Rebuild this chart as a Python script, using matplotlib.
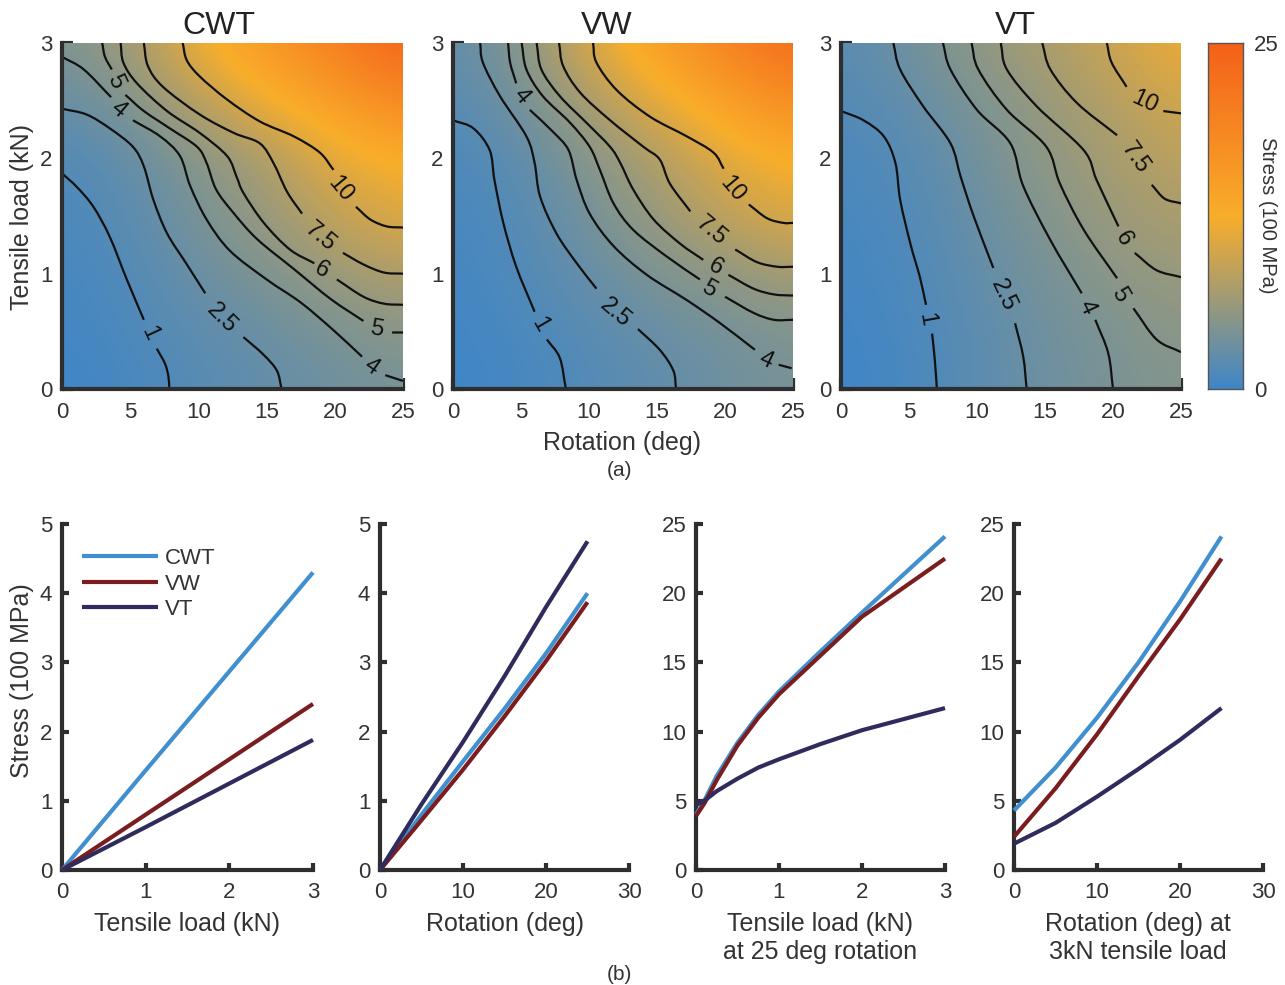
import numpy as np
import matplotlib
matplotlib.use("Agg")
import matplotlib.pyplot as plt
from matplotlib.colors import LinearSegmentedColormap
from matplotlib.path import Path
from matplotlib.patches import PathPatch

plt.rcParams['font.family'] = ['Liberation Sans', 'DejaVu Sans']
W, H = 1285, 985
TXT = '#333333'
AX = '#2e2e2e'

# ---------- data: stress fields ----------
grid_rot = [0, 5, 10, 15, 20, 25]
grid_load = [0, 0.5, 1, 1.5, 2, 2.5, 3]
field_cwt = [[0, .6, 1.6, 2.4, 3.2, 3.9], [.3, 1.0, 2, 3, 4, 5], [.5, 1.3, 3.0, 4.2, 6.2, 7.5],
             [.8, 1.9, 3.8, 6.0, 8.8, 10.8], [1.2, 2.4, 4.8, 7.2, 11, 12.8], [2.5, 4.4, 8, 12, 15, 18.5],
             [4.3, 6.5, 12, 16, 20, 24.5]]
field_vw = [[0, .6, 1.4, 2.2, 3.2, 3.9], [.2, .8, 1.7, 2.8, 3.6, 4.4], [.4, 1.2, 2.7, 4.1, 5.4, 6.7],
            [.6, 1.5, 3.6, 6, 8.6, 10.7], [.9, 2.0, 4.8, 7.5, 10.8, 12.8], [1.6, 3.5, 7, 11, 14.5, 18],
            [2.4, 4.6, 10.5, 15, 19.5, 23]]
field_vt = [[0, .7, 1.9, 3.2, 4, 4.7], [.2, .8, 2, 3.3, 4.2, 5.2], [.4, 1, 2.4, 3.8, 5.2, 6.1],
            [.6, 1.2, 2.9, 4.5, 6.2, 7.3], [.9, 1.6, 3.4, 5.4, 7, 8.4], [1.2, 2.4, 4.1, 6, 7.8, 10],
            [1.9, 3.3, 5.5, 7.3, 9.5, 11.7]]

# ---------- data: contour traces (rotation, load), split where labels interrupt ----------
contours_cwt = [
    [(0,1.87),(1.1,1.75),(2.3,1.58),(3.5,1.32),(4.75,.95),(6,.6)],
    [(6.95,.35),(7.55,.22),(7.8,.11),(7.87,0)],
    [(0,2.43),(1.8,2.38),(3.5,2.26),(5.2,2.10),(6,1.93),(6.7,1.64),(7.7,1.35),(9.1,1.09),(10.5,.83)],
    [(13.3,.45),(14.75,.3),(15.75,.16),(16.1,0)],
    [(0,2.88),(1.6,2.77),(3.6,2.53)],
    [(5.2,2.33),(7.2,2.19),(8.65,2.02),(9.4,1.76),(10.6,1.47),(12.3,1.2),(15,.95),(17.5,.75),(19.9,.51),(22,.28)],
    [(23.7,.12),(25,.07)],
    [(2.95,3),(3.15,2.88),(3.65,2.77)],
    [(4.65,2.55),(6,2.41),(7.9,2.26),(9.9,2.1),(10.6,1.96),(11.3,1.73),(12.55,1.53),(14.3,1.3),(17,1.04),(19.7,.78),(22.1,.59)],
    [(24.2,.49),(25,.49)],
    [(4.3,3),(4.5,2.83),(5.5,2.65),(7.7,2.41),(10.1,2.22),(12.1,2.02),(12.8,1.84),(13.3,1.7),(14.8,1.44),(16.7,1.21),(18.5,1.09)],
    [(20.15,.95),(22.1,.8),(23.6,.74),(25,.73)],
    [(6,3),(6.3,2.8),(7.4,2.62),(10.1,2.38),(12.6,2.22),(14.5,2.13),(15.5,1.96),(16.5,1.71),(17.6,1.52)],
    [(20.6,1.18),(22.1,1.08),(23.6,1.01),(25,1)],
    [(8.85,3),(9.15,2.85),(10.1,2.71),(12.1,2.51),(14.5,2.32),(17,2.19),(18.9,2.05),(19.9,1.9)],
    [(21.55,1.58),(22.6,1.47),(23.8,1.41),(25,1.4)],
]
contours_vw = [
    [(0,2.33),(1.5,2.26),(2.7,2.07),(3.05,1.81),(3.7,1.44),(4.65,1.06),(6,.67)],
    [(6.9,.43),(7.85,.27),(8.3,0)],
    [(2,3),(2.2,2.83),(3.45,2.54),(5.4,2.19),(6,1.96),(6.4,1.67),(7.6,1.35),(9.1,1.09),(10.55,.87)],
    [(13.6,.52),(15.2,.34),(16.2,.16),(16.4,0)],
    [(4.05,3),(4.2,2.83),(4.65,2.65)],
    [(5.65,2.42),(7.35,2.23),(8.5,2.07),(9.1,1.81),(10.05,1.52),(11.8,1.24),(14.25,.99),(17.2,.77),(19.65,.57),(22.2,.34)],
    [(23.95,.21),(24.9,.18)],
    [(5.05,3),(5.4,2.77),(6.6,2.54),(8.6,2.31),(10.05,2.1),(10.8,1.9),(11.8,1.61),(13.25,1.38),(15.7,1.15),(18.15,.95)],
    [(20,.8),(22.1,.66),(23.6,.6),(25,.6)],
    [(6.15,3),(6.5,2.77),(7.85,2.54),(9.8,2.31),(11.55,2.1),(12.3,1.96),(13.25,1.73),(14.75,1.47),(16.7,1.26),(18.4,1.12)],
    [(20.25,.99),(22.1,.87),(23.6,.82),(25,.81)],
    [(7.8,3),(8.1,2.8),(9.35,2.57),(11.55,2.33),(14,2.1),(15.2,1.99),(15.95,1.78),(17.45,1.54)],
    [(20.75,1.21),(22.35,1.1),(23.85,1.06),(25,1.06)],
    [(10.3,3),(10.55,2.83),(12.05,2.59),(14.5,2.36),(17.2,2.19),(19.15,2.05),(19.9,1.91)],
    [(21.75,1.6),(23.1,1.48),(24.3,1.44),(25,1.44)],
]
contours_vt = [
    [(0,2.41),(1.65,2.33),(3.15,2.19),(4,1.96),(4.35,1.64),(5.1,1.26),(5.8,.97),(6.25,.73)],
    [(6.7,.48),(6.9,.25),(7.05,0)],
    [(3.85,3),(4.35,2.77),(6.05,2.45),(8.05,2.13),(8.8,1.84),(9.75,1.5),(11.2,1.05)],
    [(12.8,.57),(13.4,.28),(13.65,0)],
    [(7.5,3),(8.05,2.77),(10,2.42),(12.45,2.13),(13.4,1.76),(15.4,1.29),(17.7,.83)],
    [(18.7,.6),(19.65,.31),(20,0)],
    [(9.6,3),(10.1,2.77),(12.2,2.42),(15.1,2.1),(16.1,1.78),(17.85,1.38),(20.3,.96)],
    [(21.5,.7),(23.2,.43),(25,.32)],
    [(11.75,3),(12.2,2.77),(14.4,2.45),(17.85,2.07),(18.8,1.81),(20.4,1.41)],
    [(21.6,1.18),(23.2,1.03),(25,.97)],
    [(14.8,3),(15.4,2.77),(17.35,2.48),(20.3,2.2)],
    [(22.85,1.77),(23.8,1.65),(25,1.61)],
    [(19.55,3),(19.9,2.83),(21,2.62)],
    [(23.7,2.41),(25,2.39)],
]
labels_cwt = [('1',6.4,.48,-65),('5',3.9,2.67,-65),('4',4.1,2.42,-40),('2.5',11.7,.61,-45),('10',20.4,1.73,-50),
              ('7.5',18.9,1.32,-40),('6',19.05,1.03,-30),('5',23.1,.52,-10),('4',22.7,.19,-35)]
labels_vw = [('1',6.35,.56,-60),('4',5,2.54,-50),('2.5',11.9,.66,-40),('10',20.5,1.73,-50),('7.5',19,1.37,-40),
             ('6',19.3,1.06,-30),('5',18.8,.87,-30),('4',23,.25,-25)]
labels_vt = [('1',6.3,.6,-80),('2.5',11.9,.81,-65),('4',18.1,.71,-65),('5',20.5,.82,-60),('6',20.75,1.3,-60),
             ('7.5',21.6,2,-55),('10',22.3,2.49,-25)]

# ---------- data: line panels ----------
load_a = [0, 1, 2, 3]
cwt_a = [0, 1.44, 2.87, 4.3]
vw_a = [0, .8, 1.6, 2.4]
vt_a = [0, .62, 1.25, 1.88]
rot_b = [0, 5, 10, 15, 20, 25]
cwt_b = [0, .8, 1.57, 2.33, 3.13, 4.0]
vw_b = [0, .72, 1.45, 2.22, 3.02, 3.87]
vt_b = [0, .95, 1.85, 2.8, 3.8, 4.75]
load_c = [0, .1, .25, .5, .75, 1, 1.5, 2, 3]
cwt_c = [4.0, 5, 6.8, 9.2, 11.2, 12.9, 15.8, 18.6, 24.1]
vw_c = [3.9, 4.8, 6.5, 9, 11, 12.7, 15.5, 18.3, 22.5]
vt_c = [4.7, 5.0, 5.7, 6.6, 7.4, 8, 9.1, 10.1, 11.7]
rot_d = [0, 5, 10, 15, 20, 25]
cwt_d = [4.3, 7.4, 11, 15, 19.4, 24.1]
vw_d = [2.4, 5.9, 9.8, 14, 18.1, 22.5]
vt_d = [1.9, 3.4, 5.3, 7.3, 9.4, 11.7]

C_CWT, C_VW, C_VT = '#408fcf', '#7b1c1e', '#2f2b5c'
cmap = LinearSegmentedColormap.from_list('stress', ['#3f86c8', '#f9ae2a', '#f4601a'])

fig = plt.figure(figsize=(W / 100, H / 100), dpi=100, facecolor='white')

def make_axes(x0, x1, ytop, ybot):
    return fig.add_axes([x0 / W, 1 - ybot / H, (x1 - x0) / W, (ybot - ytop) / H])

def style(ax, xt, yt, ticklen=5):
    for s in ('top', 'right'):
        ax.spines[s].set_visible(False)
    for s in ('left', 'bottom'):
        ax.spines[s].set_linewidth(3)
        ax.spines[s].set_color(AX)
        ax.spines[s].set_capstyle('projecting')
    ax.set_xticks(xt)
    ax.set_yticks(yt)
    ax.tick_params(direction='in', length=ticklen, width=3, color=AX, labelsize=16,
                   labelcolor=TXT, pad=9)
    ax.tick_params(axis='y', pad=7)
    ax.set_facecolor('none')

def smooth(ax, pts):
    p = np.array(pts, float)
    q = np.vstack([2 * p[0] - p[1], p, 2 * p[-1] - p[-2]])
    verts, codes = [tuple(p[0])], [Path.MOVETO]
    for i in range(1, len(q) - 2):
        verts += [tuple(q[i] + (q[i + 1] - q[i - 1]) / 6), tuple(q[i + 1] - (q[i + 2] - q[i]) / 6), tuple(q[i + 1])]
        codes += [Path.CURVE4] * 3
    ax.add_patch(PathPatch(Path(verts, codes), fill=False, edgecolor='#111111', lw=1.6, clip_on=True, zorder=2))

top_panels = [('CWT', 62, 403, field_cwt, contours_cwt, labels_cwt, 219),
              ('VW', 453, 793, field_vw, contours_vw, labels_vw, 607),
              ('VT', 841, 1181, field_vt, contours_vt, labels_vt, 1015)]
for name, x0, x1, field, traces, labs, tx in top_panels:
    ax = make_axes(x0, x1, 43, 389)
    ax.imshow(np.array(field), cmap=cmap, vmin=0, vmax=25, origin='lower', aspect='auto',
              extent=[grid_rot[0] - 2.5, grid_rot[-1] + 2.5, grid_load[0] - 0.25, grid_load[-1] + 0.25],
              interpolation='bicubic', interpolation_stage='data', zorder=1)
    ax.set_xlim(0, 25)
    ax.set_ylim(0, 3)
    style(ax, [0, 5, 10, 15, 20, 25], [0, 1, 2, 3], ticklen=8)
    ax.set_axisbelow(True)
    for t in traces:
        smooth(ax, t)
    for s, lx, ly, rot in labs:
        ax.text(lx, ly, s, rotation=rot, rotation_mode='anchor', ha='center', va='center',
                fontsize=17, color='#111111', zorder=3)
    fig.text(tx / W, 1 - 26 / H, name, ha='center', va='center', fontsize=23, color='#222222')

LAB = 18
fig.text(22 / W, 1 - 217 / H, 'Tensile load (kN)', rotation=90, ha='center', va='center', fontsize=LAB, color=TXT)
fig.text(622 / W, 1 - 443 / H, 'Rotation (deg)', ha='center', va='center', fontsize=LAB, color=TXT)
fig.text(619 / W, 1 - 470 / H, '(a)', ha='center', va='center', fontsize=15, color=TXT)
fig.text(619 / W, 1 - 974 / H, '(b)', ha='center', va='center', fontsize=15, color=TXT)

# colour bar
cax = make_axes(1208, 1243, 43, 389)
cax.imshow(np.linspace(25, 0, 256)[:, None], cmap=cmap, vmin=0, vmax=25, aspect='auto', extent=[0, 1, 0, 25])
cax.set_xticks([])
cax.yaxis.tick_right()
cax.set_yticks([0, 25])
cax.tick_params(length=0, labelsize=16, labelcolor=TXT, pad=8)
for s in cax.spines.values():
    s.set_linewidth(1)
    s.set_color('#555555')
fig.text(1268 / W, 1 - 215 / H, 'Stress (100 MPa)', rotation=270, ha='center', va='center', fontsize=14.5, color=TXT)

# line panels
bot_panels = [
    (62, 313, 3, [0, 1, 2, 3], 5, [0, 1, 2, 3, 4, 5], load_a, cwt_a, vw_a, vt_a),
    (380, 629, 30, [0, 10, 20, 30], 5, [0, 1, 2, 3, 4, 5], rot_b, cwt_b, vw_b, vt_b),
    (696, 945, 3, [0, 1, 2, 3], 25, [0, 5, 10, 15, 20, 25], load_c, cwt_c, vw_c, vt_c),
    (1014, 1263, 30, [0, 10, 20, 30], 25, [0, 5, 10, 15, 20, 25], rot_d, cwt_d, vw_d, vt_d),
]
axes_b = []
for x0, x1, xm, xt, ym, yt, xs, c, v, t in bot_panels:
    ax = make_axes(x0, x1, 524, 870)
    ax.plot(xs, c, color=C_CWT, lw=3, label='CWT', clip_on=False, solid_capstyle='butt', zorder=3)
    ax.plot(xs, v, color=C_VW, lw=3, label='VW', clip_on=False, solid_capstyle='butt', zorder=3)
    ax.plot(xs, t, color=C_VT, lw=3, label='VT', clip_on=False, solid_capstyle='butt', zorder=3)
    ax.set_xlim(0, xm)
    ax.set_ylim(0, ym)
    style(ax, xt, yt, ticklen=5)
    axes_b.append(ax)

leg = axes_b[0].legend(loc='upper left', bbox_to_anchor=(0.08, 0.93), frameon=False, fontsize=16,
                       handlelength=3.42, handletextpad=0.3, labelspacing=0.2, borderpad=0, borderaxespad=0)
for t in leg.get_texts():
    t.set_color(TXT)

fig.text(22 / W, 1 - 681 / H, 'Stress (100 MPa)', rotation=90, ha='center', va='center', fontsize=LAB, color=TXT)
fig.text(187 / W, 1 - 924 / H, 'Tensile load (kN)', ha='center', va='center', fontsize=LAB, color=TXT)
fig.text(505 / W, 1 - 924 / H, 'Rotation (deg)', ha='center', va='center', fontsize=LAB, color=TXT)
fig.text(820 / W, 1 - 938 / H, 'Tensile load (kN)\nat 25 deg rotation', ha='center', va='center',
         fontsize=LAB, color=TXT, linespacing=1.2)
fig.text(1138 / W, 1 - 938 / H, 'Rotation (deg) at\n3kN tensile load', ha='center', va='center',
         fontsize=LAB, color=TXT, linespacing=1.2)

fig.savefig('out.png', dpi=100, facecolor='white')
